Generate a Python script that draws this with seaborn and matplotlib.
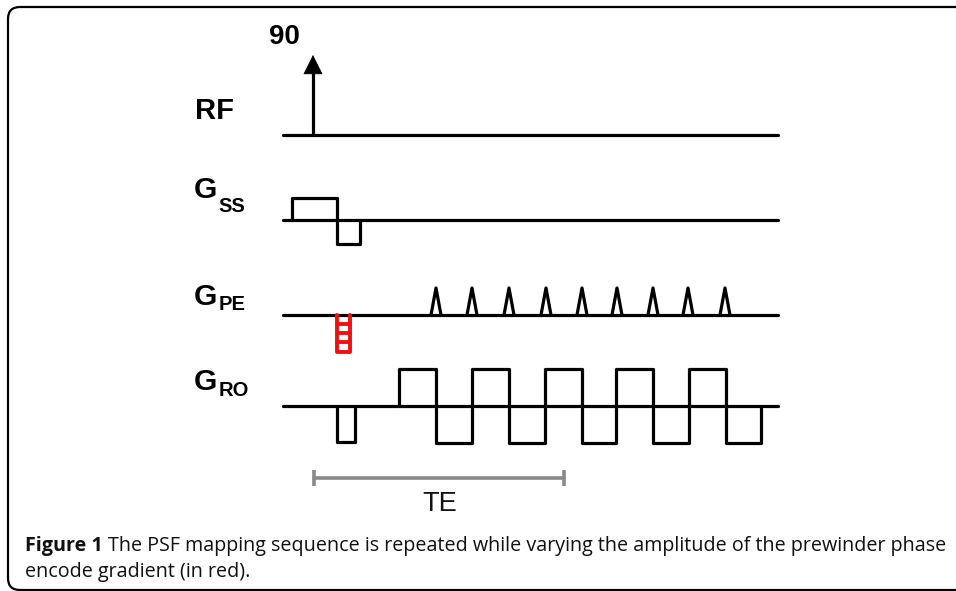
import numpy as np
import pandas as pd
import matplotlib.pyplot as plt
import seaborn as sns
from matplotlib.patches import FancyBboxPatch

sns.set_theme(style="white")
plt.rcParams["font.family"] = ["Liberation Sans", "DejaVu Sans"]
plt.rcParams["text.color"] = "black"

# time axis of the sequence (diagram units), start / end of every channel line
t_start = 283
t_end = 778

# channel labels and baseline levels
channels = ["RF", "GSS", "GPE", "GRO"]
baselines = [135, 220, 315, 406]

# RF excitation
rf_time = 313
rf_height = 80
rf_label = "90"

# slice select: lobe edges and amplitudes
ss_edges = [292, 337, 360]
ss_amps = [22, -24]

# readout: prephaser then alternating lobes
ro_pre_edges = [337, 355]
ro_pre_amp = -36
ro_edges = [399, 436, 472, 509, 545, 582, 616, 653, 689, 726, 761]
ro_amps = [37, -37, 37, -37, 37, -37, 37, -37, 37, -37]

# phase encode blips and prewinder (red, several amplitudes)
pe_blips = [436, 472, 509, 546, 582, 617, 653, 688, 725]
pe_blip_height = 27
pe_blip_halfwidth = 5
pe_pre_edges = [337.5, 350.5]
pe_pre_steps = [-9, -18, -27, -37]

# echo time bar
te_range = [314, 564]
te_level = 478

caption_bold = "Figure 1"
caption_line1 = "The PSF mapping sequence is repeated while varying the amplitude of the prewinder phase"
caption_line2 = "encode gradient (in red)."


def lobes(edges, amps, base):
    t, y = [], []
    for (a, b), amp in zip(zip(edges[:-1], edges[1:]), amps):
        t += [a, a, b, b]
        y += [base, base - amp, base - amp, base]
    return t, y


rows = []
seg = 0
# baselines
for ch, base in zip(channels, baselines):
    rows += [(seg, t_start, base), (seg, t_end, base)]
    seg += 1
# RF shaft
rows += [(seg, rf_time, baselines[0]), (seg, rf_time, baselines[0] - rf_height + 18)]
seg += 1
# slice select
t, y = lobes(ss_edges, ss_amps, baselines[1])
rows += [(seg, a, b) for a, b in zip(t, y)]
seg += 1
# readout prephaser + lobes
t, y = lobes(ro_pre_edges, [ro_pre_amp], baselines[3])
rows += [(seg, a, b) for a, b in zip(t, y)]
seg += 1
t, y = lobes(ro_edges, ro_amps, baselines[3])
rows += [(seg, a, b) for a, b in zip(t, y)]
seg += 1
# phase encode blips
for c in pe_blips:
    rows += [(seg, c - pe_blip_halfwidth, baselines[2]),
             (seg, c, baselines[2] - pe_blip_height),
             (seg, c + pe_blip_halfwidth, baselines[2])]
    seg += 1
df = pd.DataFrame(rows, columns=["seg", "t", "y"])

fig = plt.figure(figsize=(9.56, 5.91), dpi=100)
ax = fig.add_axes([0, 0, 1, 1])
ax.set_xlim(0, 956)
ax.set_ylim(591, 0)
ax.axis("off")

lw = 2.3
sns.lineplot(data=df, x="t", y="y", units="seg", estimator=None, sort=False,
             color="black", lw=lw, ax=ax, legend=False)

# red prewinder ladder
pe_rows = []
p0, p1 = pe_pre_edges
b = baselines[2]
lo = b - pe_pre_steps[-1]
pe_rows += [(0, p0, b), (0, p0, lo), (0, p1, lo), (0, p1, b)]
for i, s in enumerate(pe_pre_steps[:-1]):
    pe_rows += [(i + 1, p0, b - s), (i + 1, p1, b - s)]
pe_df = pd.DataFrame(pe_rows, columns=["seg", "t", "y"])
sns.lineplot(data=pe_df, x="t", y="y", units="seg", estimator=None, sort=False,
             color="#f01010", lw=2.8, ax=ax, legend=False)

# RF arrow head
ax.annotate("", xy=(rf_time, baselines[0] - rf_height), xytext=(rf_time, baselines[0] - rf_height + 20),
            arrowprops=dict(arrowstyle="-|>,head_length=13,head_width=6.5", color="black",
                            lw=0.5, shrinkA=0, shrinkB=0, mutation_scale=1))

# TE bar
te_df = pd.DataFrame({"t": [te_range[0], te_range[1]], "y": [te_level, te_level]})
sns.lineplot(data=te_df, x="t", y="y", color="#8a8a8a", lw=2.6, ax=ax, legend=False)
for x in te_range:
    ax.plot([x, x], [te_level - 8, te_level + 8], color="#8a8a8a", lw=2.6, solid_capstyle="butt")
ax.text(440, 504, "TE", fontsize=19.5, ha="center", va="center", color="#111111")

# labels
ax.text(284, 37, rf_label, fontsize=20, fontweight="bold", ha="center", va="center")
ax.text(195, 111, "RF", fontsize=21, fontweight="bold", ha="left", va="center")
sub_labels = [("SS", 190, 207), ("PE", 297, 304), ("RO", 382, 391)]
for sub, gy, sy in sub_labels:
    ax.text(194, gy, "G", fontsize=21.5, fontweight="bold", ha="left", va="center")
    ax.text(218.5, sy, sub, fontsize=14.5, fontweight="bold", ha="left", va="center")

# frame
ax.add_patch(FancyBboxPatch((8, 7), 1100, 583, boxstyle="round,pad=0,rounding_size=12",
                            fill=False, lw=1.6, ec="black", clip_on=True))

# caption
cap_font = ["Open Sans", "DejaVu Sans"]
cap_size = 14.2
t1 = ax.text(25, 551, caption_bold, fontsize=cap_size, fontweight="bold", family=cap_font,
             ha="left", va="baseline", color="#111111")
fig.canvas.draw()
bb = t1.get_window_extent()
x_end = ax.transData.inverted().transform((bb.x1, bb.y0))[0]
ax.text(x_end + 5, 551, caption_line1, fontsize=cap_size, family=cap_font, ha="left",
        va="baseline", color="#111111")
ax.text(25, 577, caption_line2, fontsize=cap_size, family=cap_font, ha="left",
        va="baseline", color="#111111")

fig.savefig("out.png", dpi=100)
